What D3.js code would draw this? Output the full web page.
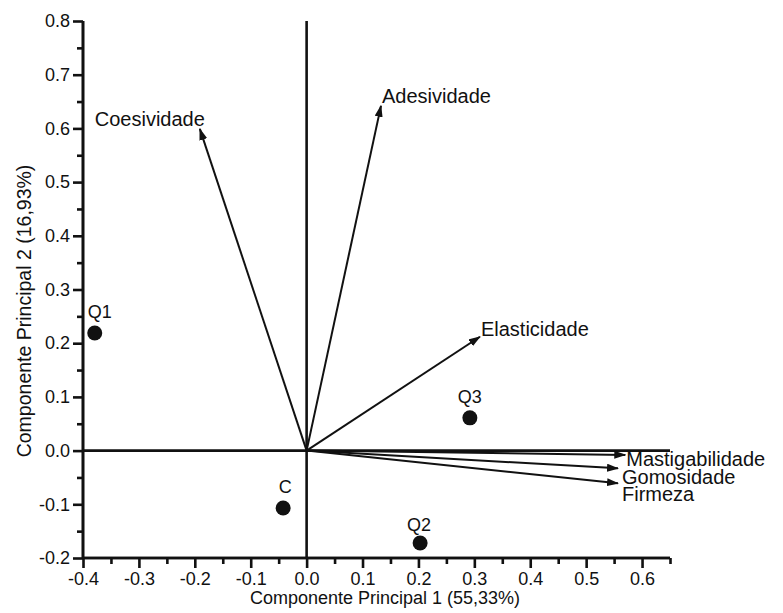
<!DOCTYPE html>
<html lang="pt">
<head>
<meta charset="utf-8">
<script src="https://d3js.org/d3.v7.min.js"></script>
<style>
    body { margin: 0; background: #fff; }
    svg text { font-family: "Liberation Sans", Arial, sans-serif; fill: #111; }
</style>
</head>
<body>
<div id="chart"></div>
<script>
// scores (samples)
var sampleNames = ["Q1", "C", "Q2", "Q3"];
var sampleX = [-0.379, -0.042, 0.203, 0.292];
var sampleY = [0.219, -0.107, -0.172, 0.061];

// loadings (texture attributes)
var varNames = ["Coesividade", "Adesividade", "Elasticidade", "Mastigabilidade", "Gomosidade", "Firmeza"];
var varX = [-0.191, 0.133, 0.31, 0.57, 0.557, 0.557];
var varY = [0.599, 0.642, 0.212, -0.008, -0.033, -0.061];

var xTicks = [-0.4, -0.3, -0.2, -0.1, 0.0, 0.1, 0.2, 0.3, 0.4, 0.5, 0.6];
var yTicks = [-0.2, -0.1, 0.0, 0.1, 0.2, 0.3, 0.4, 0.5, 0.6, 0.7, 0.8];

var W = 783, H = 613;
var mLeft = 83, mRight = 670, mTop = 21, mBottom = 558;

var svg = d3.select("#chart").append("svg")
    .attr("width", W)
    .attr("height", H);

var x = d3.scaleLinear().domain([-0.4, 0.65]).range([mLeft, mRight]);
var y = d3.scaleLinear().domain([-0.2, 0.8]).range([mBottom, mTop]);

var fmt = function(d) { return d.toFixed(1); };

// arrow head
svg.append("defs").append("marker")
    .attr("id", "arrow")
    .attr("viewBox", "0 0 12 8")
    .attr("refX", 11)
    .attr("refY", 4)
    .attr("markerWidth", 12)
    .attr("markerHeight", 8)
    .attr("markerUnits", "userSpaceOnUse")
    .attr("orient", "auto")
  .append("path")
    .attr("d", "M0,0 L12,4 L0,8 Z")
    .attr("fill", "#111");

// zero lines
svg.append("line")
    .attr("x1", x(0)).attr("x2", x(0))
    .attr("y1", y(0.8)).attr("y2", y(-0.2))
    .attr("stroke", "#111").attr("stroke-width", 2.6);
svg.append("line")
    .attr("x1", x(-0.4)).attr("x2", x(0.65))
    .attr("y1", y(0)).attr("y2", y(0))
    .attr("stroke", "#111").attr("stroke-width", 2.6);

// minor ticks
var xMinor = xTicks.map(function(d) { return d + 0.05; });
var yMinor = yTicks.slice(0, -1).map(function(d) { return d + 0.05; });

var gx = svg.append("g").attr("transform", "translate(0," + y(-0.2) + ")");
gx.call(d3.axisBottom(x).tickValues(xMinor).tickSize(6).tickFormat(""));
gx.append("g").call(d3.axisBottom(x).tickValues(xTicks).tickSize(10).tickPadding(4).tickFormat(fmt));

var gy = svg.append("g").attr("transform", "translate(" + x(-0.4) + ",0)");
gy.call(d3.axisLeft(y).tickValues(yMinor).tickSize(6).tickFormat(""));
gy.append("g").call(d3.axisLeft(y).tickValues(yTicks).tickSize(10).tickPadding(3).tickFormat(fmt));

svg.selectAll(".domain").attr("stroke", "#111").attr("stroke-width", 2.6);
svg.selectAll(".tick line").attr("stroke", "#111").attr("stroke-width", 2.6);
svg.selectAll(".tick text").style("font-size", "18px").attr("fill", "#111");
gx.selectAll("path.domain").attr("d", "M" + x(-0.4) + ",0H" + x(0.65));
gy.selectAll("path.domain").attr("d", "M0," + y(-0.2) + "V" + y(0.8));

// loading arrows
var varLabelOffset = {
    "Coesividade": [5, -3, "end"],
    "Adesividade": [1, -3, "start"],
    "Elasticidade": [1, -1, "start"],
    "Mastigabilidade": [1, 11, "start"],
    "Gomosidade": [4, 16, "start"],
    "Firmeza": [4, 18, "start"]
};

varNames.forEach(function(name, i) {
    svg.append("line")
        .attr("x1", x(0)).attr("y1", y(0))
        .attr("x2", x(varX[i])).attr("y2", y(varY[i]))
        .attr("stroke", "#111")
        .attr("stroke-width", 2)
        .attr("marker-end", "url(#arrow)");
    var o = varLabelOffset[name];
    svg.append("text")
        .attr("x", x(varX[i]) + o[0])
        .attr("y", y(varY[i]) + o[1])
        .attr("text-anchor", o[2])
        .style("font-size", "20px")
        .text(name);
});

// sample points
var sampleLabelOffset = { "Q1": [5, -15], "C": [2, -15], "Q2": [-1, -12], "Q3": [0, -15] };

sampleNames.forEach(function(name, i) {
    svg.append("circle")
        .attr("cx", x(sampleX[i]))
        .attr("cy", y(sampleY[i]))
        .attr("r", 7.5)
        .attr("fill", "#111");
    var o = sampleLabelOffset[name];
    svg.append("text")
        .attr("x", x(sampleX[i]) + o[0])
        .attr("y", y(sampleY[i]) + o[1])
        .attr("text-anchor", "middle")
        .style("font-size", "18px")
        .text(name);
});

// axis titles
svg.append("text")
    .attr("x", 385)
    .attr("y", 604)
    .attr("text-anchor", "middle")
    .style("font-size", "18px")
    .text("Componente Principal 1 (55,33%)");

svg.append("text")
    .attr("transform", "translate(31,311) rotate(-90)")
    .attr("text-anchor", "middle")
    .style("font-size", "19.5px")
    .text("Componente Principal 2 (16,93%)");
</script>
</body>
</html>
